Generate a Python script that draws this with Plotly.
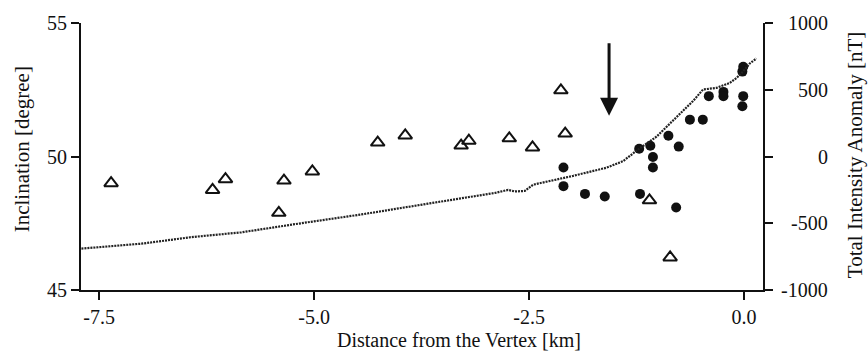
import plotly.graph_objects as go

# ---- data ----
tri_x = [-7.36, -6.18, -6.03, -5.41, -5.35, -5.02, -4.26, -3.94, -3.29, -3.20,
         -2.73, -2.46, -2.13, -2.08, -1.10, -0.86]
tri_y = [49.00, 48.75, 49.15, 47.89, 49.10, 49.44, 50.52, 50.79, 50.41, 50.59,
         50.68, 50.34, 52.48, 50.86, 48.36, 46.22]

dot_x = [-0.01, -0.02, -0.01, -0.02, -0.24, -0.24, -0.41, -0.48, -0.63, -0.88,
         -0.76, -1.22, -1.09, -1.06, -1.06, -2.10, -2.10, -1.85, -1.62, -1.21, -0.79]
dot_y = [53.36, 53.18, 52.26, 51.88, 52.42, 52.26, 52.26, 51.38, 51.38, 50.78,
         50.37, 50.29, 50.40, 49.98, 49.59, 49.59, 48.89, 48.60, 48.50, 48.60, 48.09]

line_x = [-7.705, -7.007, -6.426, -5.844, -5.224, -4.449, -3.674, -2.899, -2.744,
          -2.666, -2.550, -2.453, -1.988, -1.600, -1.407, -1.213, -1.019, -0.902,
          -0.747, -0.593, -0.477, -0.321, -0.166, -0.088, -0.012, 0.066, 0.144]
line_nT = [-690, -653, -604, -568, -507, -434, -353, -273, -250,
           -262, -258, -211, -145, -84, -35, 62, 148, 221,
           319, 416, 502, 514, 551, 588, 636, 697, 734]

x_ticks = [-7.5, -5.0, -2.5, 0.0]
x_ticktext = ["-7.5", "-5.0", "-2.5", "0.0"]
y_ticks = [45, 50, 55]
y2_ticks = [-1000, -500, 0, 500, 1000]
y2_ticktext = ["-1000", "-500", "0", "500", "1000"]

arrow_x = -1.57
arrow_tip = 51.53
arrow_tail = 54.30

FONT = "Liberation Serif"
INK = "#111111"

fig = go.Figure()

fig.add_trace(go.Scatter(
    x=line_x, y=line_nT, yaxis="y2", mode="lines",
    line=dict(color="#222222", width=2.2, dash="2px,1px"),
    showlegend=False, hoverinfo="skip"))

fig.add_trace(go.Scatter(
    x=tri_x, y=tri_y, mode="markers",
    marker=dict(symbol="triangle-up-open", size=12, color=INK,
                line=dict(width=2, color=INK)),
    showlegend=False))

fig.add_trace(go.Scatter(
    x=dot_x, y=dot_y, mode="markers",
    marker=dict(symbol="circle", size=10, color=INK, line=dict(width=0)),
    showlegend=False))

# right-axis tick labels, right-aligned at the axis' values
for v, t in zip(y2_ticks, y2_ticktext):
    fig.add_annotation(x=1.0, xref="paper", xshift=67, y=v, yref="y2",
                       text=t, showarrow=False, xanchor="right", yanchor="middle",
                       font=dict(family=FONT, size=20, color=INK))

fig.add_annotation(x=arrow_x, y=arrow_tip, ax=arrow_x, ay=arrow_tail,
                   xref="x", yref="y", axref="x", ayref="y",
                   text="", showarrow=True, arrowhead=2, arrowsize=1.2,
                   arrowwidth=3, arrowcolor=INK)

fig.update_layout(
    width=868, height=360,
    margin=dict(l=81, r=105, t=17, b=70),
    paper_bgcolor="white", plot_bgcolor="white",
    font=dict(family=FONT, size=20, color=INK),
    xaxis=dict(range=[-7.71, 0.22], tickvals=x_ticks, ticktext=x_ticktext,
               showgrid=False, zeroline=False, showline=True, linecolor=INK,
               linewidth=2, ticks="outside", ticklen=8, tickwidth=1.5,
               tickcolor=INK),
    yaxis=dict(range=[45, 55], tickvals=y_ticks, showgrid=False, zeroline=False,
               showline=True, linecolor=INK, linewidth=2, ticks="outside",
               ticklen=8, tickwidth=1.5, tickcolor=INK),
    yaxis2=dict(range=[-1000, 1000], tickvals=y2_ticks, showticklabels=False,
                overlaying="y", side="right", showgrid=False, zeroline=False,
                showline=True, linecolor=INK, linewidth=2, ticks="outside",
                ticklen=8, tickwidth=1.5, tickcolor=INK),
)

# axis titles
fig.add_annotation(x=0.554, xref="paper", y=0, yref="paper", yshift=-50,
                   text="Distance from the Vertex [km]", showarrow=False,
                   xanchor="center", yanchor="middle",
                   font=dict(family=FONT, size=20, color=INK))
fig.add_annotation(x=0, xref="paper", xshift=-59, y=0.527, yref="paper",
                   text="Inclination [degree]", textangle=-90,
                   showarrow=False, xanchor="center", yanchor="middle",
                   font=dict(family=FONT, size=21, color=INK))
fig.add_annotation(x=1.0, xref="paper", xshift=92, y=0.505, yref="paper",
                   text="Total Intensity Anomaly [nT]", textangle=-90,
                   showarrow=False, xanchor="center", yanchor="middle",
                   font=dict(family=FONT, size=21, color=INK))

fig.write_html("out.html")
